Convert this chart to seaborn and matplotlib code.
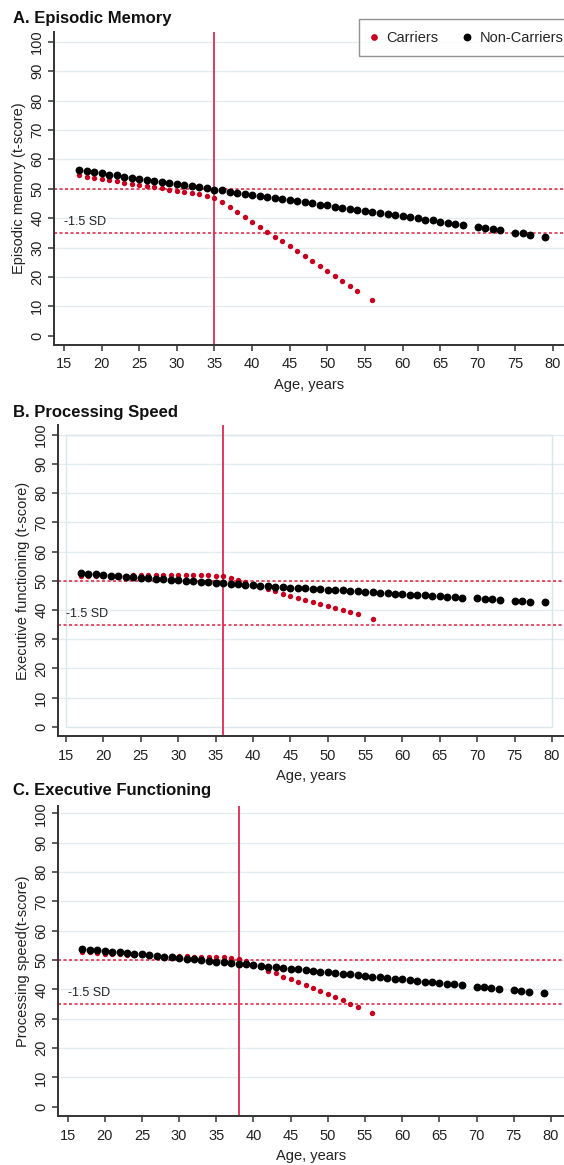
import pandas as pd
import seaborn as sns
import matplotlib.pyplot as plt
from matplotlib.lines import Line2D
from matplotlib.patches import Rectangle

sns.set_theme(style="white")
plt.rcParams['font.family'] = ['Liberation Sans', 'DejaVu Sans']

# ---- data ----
age_carriers = list(range(17, 55)) + [56]
age_noncarriers = list(range(17, 69)) + [70, 71, 72, 73, 75, 76, 77, 79]

memory_carriers = [54.5, 54.1, 53.7, 53.3, 52.9, 52.5, 52.1, 51.7, 51.3, 50.9,
                   50.5, 50.1, 49.7, 49.3, 48.9, 48.5, 48.1, 47.6, 46.9, 45.5,
                   43.8, 42.1, 40.4, 38.8, 37.1, 35.4, 33.7, 32.1, 30.4, 28.7,
                   27.1, 25.4, 23.7, 22.0, 20.4, 18.7, 17.0, 15.3, 12.0]
memory_noncarriers = [56.3, 55.9, 55.6, 55.2, 54.8, 54.5, 54.1, 53.7, 53.4, 53.0,
                      52.7, 52.3, 51.9, 51.6, 51.2, 50.8, 50.5, 50.1, 49.7, 49.4,
                      49.0, 48.6, 48.3, 47.9, 47.5, 47.2, 46.8, 46.4, 46.1, 45.7,
                      45.4, 45.0, 44.6, 44.3, 43.9, 43.5, 43.2, 42.8, 42.4, 42.1,
                      41.7, 41.4, 41.0, 40.6, 40.3, 39.9, 39.5, 39.2, 38.8, 38.4,
                      38.1, 37.7, 37.0, 36.6, 36.2, 35.9, 35.1, 34.8, 34.4, 33.7]

speed_carriers = [51.5, 51.6, 51.6, 51.7, 51.7, 51.8, 51.8, 51.9, 51.9, 51.9,
                  52.0, 52.0, 52.0, 52.0, 52.0, 52.0, 52.0, 51.9, 51.8, 51.6,
                  51.1, 50.3, 49.5, 48.7, 47.9, 47.2, 46.4, 45.6, 44.8, 44.1,
                  43.3, 42.7, 42.0, 41.4, 40.6, 39.9, 39.2, 38.5, 37.1]
speed_noncarriers = [52.6, 52.4, 52.2, 52.0, 51.8, 51.6, 51.4, 51.3, 51.1, 50.9,
                     50.7, 50.5, 50.4, 50.2, 50.0, 49.8, 49.7, 49.5, 49.3, 49.2,
                     49.0, 48.8, 48.7, 48.5, 48.4, 48.2, 48.0, 47.9, 47.7, 47.6,
                     47.4, 47.3, 47.1, 47.0, 46.8, 46.7, 46.5, 46.4, 46.2, 46.1,
                     45.9, 45.8, 45.6, 45.5, 45.3, 45.2, 45.0, 44.9, 44.7, 44.6,
                     44.4, 44.3, 44.0, 43.8, 43.7, 43.5, 43.2, 43.1, 42.9, 42.6]

exec_carriers = [52.9, 52.6, 52.4, 52.2, 52.0, 51.9, 51.8, 51.7, 51.6, 51.5,
                 51.5, 51.4, 51.4, 51.3, 51.3, 51.2, 51.2, 51.1, 51.0, 50.9,
                 50.7, 50.4, 49.7, 48.6, 47.5, 46.4, 45.5, 44.3, 43.4, 42.5,
                 41.4, 40.4, 39.4, 38.4, 37.3, 36.3, 35.2, 34.1, 32.1]
exec_noncarriers = [53.8, 53.6, 53.3, 53.1, 52.8, 52.6, 52.3, 52.1, 51.9, 51.6,
                    51.4, 51.1, 50.9, 50.6, 50.4, 50.2, 49.9, 49.7, 49.4, 49.2,
                    48.9, 48.7, 48.5, 48.2, 48.0, 47.7, 47.5, 47.2, 47.0, 46.8,
                    46.5, 46.3, 46.0, 45.8, 45.5, 45.3, 45.1, 44.8, 44.6, 44.3,
                    44.1, 43.8, 43.6, 43.4, 43.1, 42.9, 42.6, 42.4, 42.1, 41.9,
                    41.7, 41.4, 40.9, 40.7, 40.4, 40.2, 39.7, 39.5, 39.2, 38.7]

titles = ["A. Episodic Memory", "B. Processing Speed", "C. Executive Functioning"]
ylabels = ["Episodic memory (t-score)", "Executive functioning (t-score)",
           "Processing speed(t-score)"]
onset_ages = [35, 36, 38]
mean_line = 50
sd_line = 35

panels = [(memory_carriers, memory_noncarriers),
          (speed_carriers, speed_noncarriers),
          (exec_carriers, exec_noncarriers)]

# ---- layout (pixels) ----
W, H = 564, 1165
# left, right, top, bottom of each axes box
boxes = [(54, 564, 32, 345), (58, 564, 425, 736), (58, 564, 806, 1116)]
xlims = [(13.67, 81.46), (13.93, 81.6), (13.72, 81.75)]
ylims = [(-3.16, 103.3), (-3.15, 103.4), (-3.13, 102.5)]
title_y = [18, 413, 791]

RED = "#c8001e"
LINE_RED = "#de2a55"
DASH_RED = "#e0203c"
GRID = "#e3edf0"
SPINE = "#333333"

fig = plt.figure(figsize=(W / 100, H / 100), dpi=100)

for i, (car, non) in enumerate(panels):
    l, r, t, b = boxes[i]
    ax = fig.add_axes([l / W, 1 - b / H, (r - l) / W, (b - t) / H])

    df_car = pd.DataFrame({"age": age_carriers, "score": car})
    df_non = pd.DataFrame({"age": age_noncarriers, "score": non})

    # reference lines
    for yv in range(10, 101, 10):
        ax.axhline(yv, color=GRID, lw=1.0, zorder=0)
    ax.axhline(mean_line, color=DASH_RED, lw=1.1, dashes=(2, 1.6), zorder=1)
    ax.axhline(sd_line, color=DASH_RED, lw=1.1, dashes=(2, 1.6), zorder=1)
    ax.axvline(onset_ages[i], color=LINE_RED, lw=1.3, zorder=1)
    if i == 1:
        ax.add_patch(Rectangle((15, 0), 65, 100, fill=False, edgecolor="#dbe7eb",
                               lw=1.0, zorder=0))

    sns.scatterplot(data=df_car, x="age", y="score", color=RED, s=15,
                    linewidth=0, ax=ax, zorder=3, legend=False)
    sns.scatterplot(data=df_non, x="age", y="score", color="black", s=32,
                    linewidth=0, ax=ax, zorder=4, legend=False)

    ax.text(15, 38.8, "-1.5 SD", fontsize=9, color="#222222", va="center", ha="left")

    ax.set_xlim(*xlims[i])
    ax.set_ylim(*ylims[i])
    ax.set_xticks(range(15, 81, 5))
    ax.set_yticks(range(0, 101, 10))
    ax.set_yticklabels([str(v) for v in range(0, 101, 10)], rotation=90, va="center")
    ax.tick_params(axis="both", direction="out", length=4, width=1.1, color=SPINE,
                   labelsize=10.5, labelcolor="#222222", pad=3, left=True, bottom=True)
    ax.tick_params(axis="x", pad=5)

    for side in ["top", "right"]:
        ax.spines[side].set_visible(False)
    for side in ["left", "bottom"]:
        ax.spines[side].set_color(SPINE)
        ax.spines[side].set_linewidth(1.4)

    ax.set_xlabel("Age, years", fontsize=10.5, color="#222222", labelpad=5)
    ax.set_ylabel(ylabels[i], fontsize=10.5, color="#222222", labelpad=3)
    ax.grid(False)

    fig.text(13 / W, 1 - title_y[i] / H, titles[i], fontsize=12, fontweight="bold",
             va="center", ha="left", color="#111111")

# legend only on the top panel (box runs off the right edge as in the original)
handles = [Line2D([], [], marker="o", ls="", color=RED, markersize=3.8, label="Carriers"),
           Line2D([], [], marker="o", ls="", color="black", markersize=4.6,
                  label="Non-Carriers")]
leg = fig.legend(handles=handles, loc="upper left", ncol=2,
                 bbox_to_anchor=(359 / W, 1 - 19 / H), frameon=True, fancybox=False,
                 edgecolor="#777777", fontsize=10.5, handletextpad=0.6,
                 columnspacing=1.7, borderpad=0.8, handlelength=0.5,
                 borderaxespad=0)
leg.get_frame().set_linewidth(1.0)

fig.savefig("out.png", dpi=100)
